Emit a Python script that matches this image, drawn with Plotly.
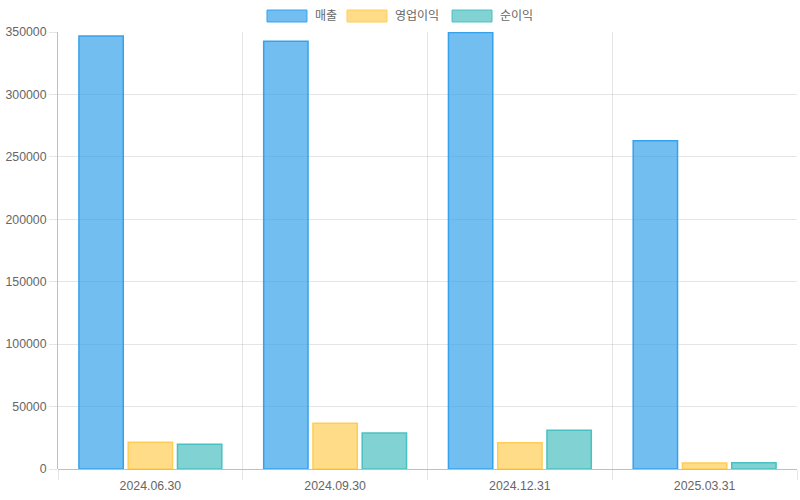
import plotly.graph_objects as go

categories = ["2024.06.30", "2024.09.30", "2024.12.31", "2025.03.31"]
sales = [346800, 342600, 349600, 262900]
operating_profit = [21400, 36600, 21100, 4800]
net_profit = [19800, 28800, 31000, 5100]
series_names = ["매출", "영업이익", "순이익"]

fills = ["rgba(54,162,235,0.7)", "rgba(255,205,86,0.7)", "rgba(75,192,192,0.7)"]
borders = ["rgb(54,162,235)", "rgb(255,205,86)", "rgb(75,192,192)"]

fig = go.Figure()
for name, vals, f, b in zip(series_names, [sales, operating_profit, net_profit], fills, borders):
    fig.add_trace(go.Bar(x=categories, y=vals, name=name,
                         marker=dict(color=f, line=dict(color=b, width=1.5))))

# Chart.js-style legend (wide boxes) drawn as decorations in paper coords
legend_box_x = [(0.2828, 0.3369), (0.3911, 0.4452), (0.5332, 0.5873)]
for name, f, b, (x0, x1) in zip(series_names, fills, borders, legend_box_x):
    fig.add_shape(type="rect", xref="paper", yref="paper", x0=x0, x1=x1,
                  y0=1.0229, y1=1.0503, fillcolor=f, line=dict(color=b, width=1))
    fig.add_annotation(xref="paper", yref="paper", x=x1 + 0.0082, y=1.0366,
                       text=name, showarrow=False, xanchor="left", yanchor="middle",
                       font=dict(size=12, color="#666"))

font_family = "Liberation Sans, Arial, Noto Sans CJK KR"
fig.update_layout(
    width=800, height=500,
    margin=dict(l=58, r=3, t=32, b=31),
    paper_bgcolor="white", plot_bgcolor="white",
    font=dict(family=font_family, size=12.3, color="#666"),
    barmode="group", bargap=0.2, bargroupgap=0.1,
    showlegend=False,
)
fig.update_xaxes(
    type="category", tickson="boundaries", ticks="outside", ticklen=10,
    tickcolor="rgba(0,0,0,0.1)", showgrid=True, gridcolor="rgba(0,0,0,0.1)",
    showline=False, zeroline=False, automargin=False, ticklabelstandoff=8,
)
fig.update_yaxes(
    range=[0, 350000], dtick=50000, ticks="outside", ticklen=8,
    tickcolor="rgba(0,0,0,0.1)", showgrid=True, gridcolor="rgba(0,0,0,0.1)",
    showline=True, linecolor="rgba(0,0,0,0.25)", zeroline=True,
    zerolinecolor="rgba(0,0,0,0.25)", zerolinewidth=1, tickformat="d",
    automargin=False,
)
fig.write_html("out.html", config={"displayModeBar": False},
               post_script="document.body.style.margin='0px';")
